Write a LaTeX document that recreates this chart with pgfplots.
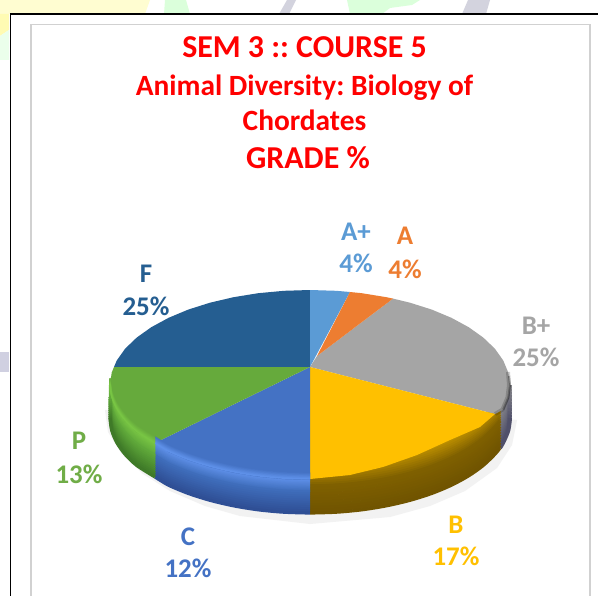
\documentclass[border=0pt]{standalone}
\usepackage{pgfplots}
\usepackage{pgfplotstable}
\usepackage{fontspec}
\setmainfont{Carlito}
\pgfplotsset{compat=1.18}
\frenchspacing
\definecolor{cAp}{HTML}{5B9BD5}
\definecolor{cA}{HTML}{ED7D31}
\definecolor{cBp}{HTML}{A5A5A5}
\definecolor{cB}{HTML}{FFC000}
\definecolor{cC}{HTML}{4472C4}
\definecolor{cP}{HTML}{70AD47}
\definecolor{cF}{HTML}{255E91}
\definecolor{title}{HTML}{FF0000}
\definecolor{topP}{HTML}{66AA3C}
\definecolor{rimC}{HTML}{5E90E8}
\definecolor{midC}{HTML}{3F6DBB}
\definecolor{lowC}{HTML}{2F4F95}
\definecolor{rimP}{HTML}{78C544}
\definecolor{midP}{HTML}{5FA83A}
\definecolor{lowP}{HTML}{3F7A28}
\definecolor{midB}{HTML}{7F6000}
\definecolor{lowB}{HTML}{705400}
\definecolor{softB}{HTML}{C89800}
\definecolor{midG}{HTML}{85858A}
\definecolor{lowG}{HTML}{50506A}
% outlines of the pie, in pixel coordinates of the picture
\pgfplotstableread{
x y
510 385
508.3 397.4
503.2 409.6
500 415
}\arcBp
\pgfplotstableread{
x y
500 415
494.8 421.4
483.2 432.5
468.7 442.8
451.4 452.2
431.8 460.4
410 467.3
386.5 472.8
361.8 476.8
336.1 479.2
310 480
}\arcB
\pgfplotstableread{
x y
310 480
283.9 479.2
258.2 476.8
233.5 472.8
210 467.3
188.2 460.4
168.6 452.2
155 444
}\arcC
\pgfplotstableread{
x y
155 444
136.8 432.5
125.2 421.4
116.8 409.6
111.7 397.4
110 385
}\arcP
\newcommand{\sideband}[6]{% table, colour from, colour to, dy from, dy to, width
  \pgfplotsinvokeforeach{0,10,...,100}{%
    \addplot[no marks,smooth,tension=0.5,color=#3!##1!#2,line width=#6,yshift={-(#4+(#5-#4)*##1/100)*1bp}] table {#1};
  }%
}
\newcommand{\lab}[3]{\node[anchor=base,text=#3,font=\fontsize{27}{27}\selectfont\bfseries] at (axis cs:#1) {#2};}
\begin{document}
\begin{tikzpicture}
\begin{axis}[
  scale only axis,width=598bp,height=596bp,
  xmin=0,xmax=598,ymin=0,ymax=596,y dir=reverse,
  hide axis,clip=true]
% faint remains of the page behind the box
\addplot[fill=yellow!18,draw=none] coordinates {(0,0)(150,0)(145,14)(0,14)} --cycle;
\addplot[fill=yellow!30,draw=none] coordinates {(0,14)(9,14)(9,30)(0,36)} --cycle;
\addplot[fill=green!8,draw=none] coordinates {(0,36)(9,30)(9,60)(0,60)} --cycle;
\addplot[fill=blue!22!gray!30,draw=none] coordinates {(0,352)(9,352)(9,372)(0,372)} --cycle;
\addplot[fill=blue!15!gray!30,draw=none] coordinates {(287,0)(296,0)(289,14)(279,14)} --cycle;
\addplot[fill=green!14,draw=none] coordinates {(165,0)(186,0)(190,14)(164,14)} --cycle;
\addplot[fill=green!14,draw=none] coordinates {(347,0)(420,0)(412,5)(390,8)(382,14)(350,14)} --cycle;
\addplot[fill=blue!15!gray!30,draw=none] coordinates {(468,0)(490,0)(486,14)(462,14)} --cycle;
% outer box and chart box
\addplot[fill=white,draw=none] coordinates {(10,14)(598,14)(598,596)(10,596)} --cycle;
\addplot[draw=black,line width=1.6bp,no marks] coordinates {(10.5,596)(10.5,14)(598,14)};
\addplot[draw=black!18,line width=1.2bp,no marks] coordinates {(31,596)(31,24.5)(590,24.5)(590,596)};
% shadow
\addplot[fill=black!5,draw=none] coordinates {(105,410)(108,432)(122,454)(143,474)(170,491)(205,506)(240,516)(310,524)(390,517)(430,506)(465,491)(497,468)(512,445)(517,420)(310,400)} --cycle;
% sides of the pie
\sideband{\arcBp}{midG}{lowG}{0}{33}{4bp}
\sideband{\arcB}{softB}{midB}{-16}{6}{3bp}
\sideband{\arcB}{midB}{lowB}{6}{33}{3.2bp}
\sideband{\arcC}{rimC}{midC}{0}{12}{2.2bp}
\sideband{\arcC}{midC}{lowC}{12}{33}{3.2bp}
\sideband{\arcP}{rimP}{midP}{0}{12}{2.2bp}
\sideband{\arcP}{midP}{lowP}{12}{33}{3.2bp}
% top faces
\addplot[fill=cF,draw=none] coordinates {(310,367)(114,367)(116.8,360.4)(125.2,348.6)(136.8,337.5)(151.3,327.2)(168.6,317.8)(188.2,309.6)(210,302.7)(233.5,297.2)(258.2,293.2)(283.9,290.8)(310,290)} --cycle;
\addplot[fill=cAp,draw=none] coordinates {(310,367)(310,290)(336.1,290.8)(350,292)} --cycle;
\addplot[fill=cBp,draw=none] coordinates {(310,367)(317,356)(393,298.6)(410,302.7)(431.8,309.6)(451.4,317.8)(468.7,327.2)(483.2,337.5)(494.8,348.6)(503.2,360.4)(508.3,372.6)(510,385)(508.3,397.4)(503.2,409.6)(495,414)} --cycle;
\addplot[fill=cA,draw=none] coordinates {(317,356)(350,292)(361.8,293.2)(386.5,297.2)(393,298.6)} --cycle;
\addplot[no marks,draw=black,opacity=0.18,line width=4bp] coordinates {(508,372)(509,385)(507.5,397.4)(502.5,409.6)(495,414)};
\addplot[no marks,draw=black,opacity=0.25,line width=2bp] coordinates {(509,376)(510,385)(508.3,397.4)(503.2,409.6)};
\addplot[fill=cB,draw=none] coordinates {(310,367)(495,414)(480,427)(450,440)(417,455)(383,467)(350,475)(310,479)} --cycle;
\addplot[fill=cC,draw=none] coordinates {(310,367)(310,480)(283.9,479.2)(258.2,476.8)(233.5,472.8)(210,467.3)(188.2,460.4)(168.6,452.2)(157,442)} --cycle;
\addplot[fill=topP,draw=none] coordinates {(310,367)(157,442)(136.8,432.5)(125.2,421.4)(116.8,409.6)(111.7,397.4)(110,385)(111.7,372.6)(114,367)} --cycle;
% light rim along the front edge
\sideband{\arcC}{cC}{rimC}{-7}{-1}{1.4bp}
\sideband{\arcP}{topP}{rimP}{-7}{-1}{1.4bp}
% title
\node[anchor=base,text=title,font=\fontsize{32}{32}\selectfont\bfseries] at (axis cs:304.5,58) {SEM 3 :: COURSE 5};
\node[anchor=base,text=title,font=\fontsize{29.5}{29.5}\selectfont\bfseries] at (axis cs:304.5,95) {Animal Diversity: Biology of};
\node[anchor=base,text=title,font=\fontsize{29.5}{29.5}\selectfont\bfseries] at (axis cs:304.5,130) {Chordates};
\node[anchor=base,text=title,font=\fontsize{32}{32}\selectfont\bfseries] at (axis cs:308,168) {GRADE \%};
% data labels
\lab{356,240}{A+}{cAp}\lab{356,272}{4\%}{cAp}
\lab{405,244}{A}{cA}\lab{405,278}{4\%}{cA}
\lab{536,334}{B+}{cBp}\lab{536,366}{25\%}{cBp}
\lab{456,533}{B}{cB}\lab{456,565}{17\%}{cB}
\lab{188,545}{C}{cC}\lab{188,577}{12\%}{cC}
\lab{79,449}{P}{cP}\lab{79,483}{13\%}{cP}
\lab{146,282}{F}{cF}\lab{146,315}{25\%}{cF}
\end{axis}
\end{tikzpicture}
\end{document}
